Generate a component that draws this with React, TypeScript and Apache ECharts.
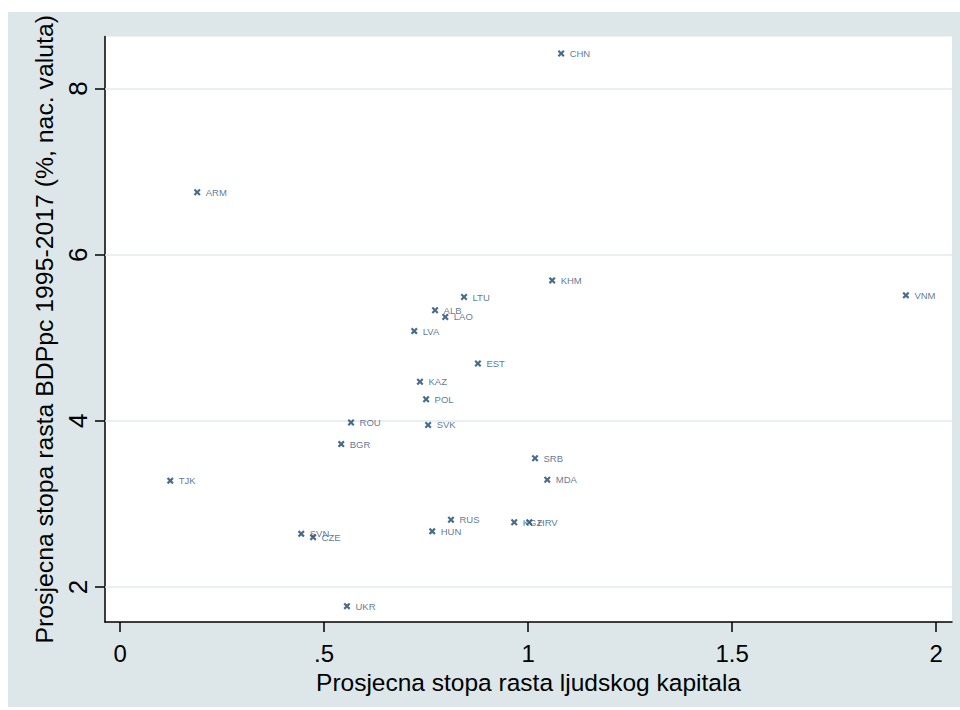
import React, { useEffect, useRef } from "react";
import * as echarts from "echarts";

// Country codes and their average growth rates
const countries = [
  "CHN", "ARM", "KHM", "VNM", "LTU", "ALB", "LAO", "LVA", "EST", "KAZ", "POL", "ROU",
  "SVK", "BGR", "SRB", "MDA", "TJK", "RUS", "HUN", "KGZ", "HRV", "SVN", "CZE", "UKR",
];
// Average growth rate of human capital
const humanCapital = [
  1.081, 0.189, 1.059, 1.926, 0.843, 0.772, 0.797, 0.721, 0.877, 0.735, 0.750, 0.566,
  0.755, 0.542, 1.017, 1.047, 0.123, 0.811, 0.765, 0.966, 1.003, 0.444, 0.473, 0.556,
];
// Average growth rate of GDP per capita 1995-2017 (%, national currency)
const gdpGrowth = [
  8.42, 6.75, 5.69, 5.51, 5.49, 5.33, 5.25, 5.08, 4.69, 4.47, 4.26, 3.98,
  3.95, 3.72, 3.55, 3.29, 3.28, 2.81, 2.67, 2.78, 2.78, 2.64, 2.60, 1.77,
];

const xTicks = [0, 0.5, 1, 1.5, 2];
const xTickLabels = ["0", ".5", "1", "1.5", "2"];
const yTicks = [2, 4, 6, 8];

const xTitle = "Prosjecna stopa rasta ljudskog kapitala";
const yTitle = "Prosjecna stopa rasta BDPpc 1995-2017 (%, nac. valuta)";

const NAVY = "#1a476f";
// Bold "x" marker drawn as a filled outline
const CROSS =
  "path://M0,2.2L2.2,0L5,2.8L7.8,0L10,2.2L7.2,5L10,7.8L7.8,10L5,7.2L2.2,10L0,7.8L2.8,5Z";

export default function App() {
  const ref = useRef<HTMLDivElement>(null);

  useEffect(() => {
    if (!ref.current) return;
    const chart = echarts.init(ref.current, null, { renderer: "svg" });
    const font = "'Liberation Sans', Arial, sans-serif";

    const points = countries.map((name, i) => ({
      name,
      value: [humanCapital[i], gdpGrowth[i]],
    }));

    chart.setOption({
      animation: false,
      backgroundColor: "#dde7e9",
      textStyle: { fontFamily: font },
      grid: { left: 97, right: 8, top: 24, bottom: 85, show: true, backgroundColor: "#ffffff", borderWidth: 0 },
      xAxis: {
        type: "value",
        min: -0.037,
        max: 2.039,
        name: xTitle,
        nameLocation: "middle",
        nameGap: 39,
        nameTextStyle: { fontSize: 24.5, color: "#000", fontFamily: font },
        axisLine: { show: true, onZero: false, lineStyle: { color: "#000", width: 1.5 } },
        axisTick: { show: true, length: 10, customValues: xTicks, lineStyle: { color: "#000", width: 1.5 } },
        axisLabel: {
          customValues: xTicks,
          formatter: (v: number) => xTickLabels[xTicks.indexOf(v)] ?? String(v),
          fontSize: 24,
          color: "#000",
          margin: 19,
          fontFamily: font,
        },
        splitLine: { show: false },
      },
      yAxis: {
        type: "value",
        min: 1.579,
        max: 8.625,
        name: yTitle,
        nameLocation: "middle",
        nameRotate: 90,
        nameGap: 42,
        nameTextStyle: { fontSize: 24.8, color: "#000", fontFamily: font },
        axisLine: { show: true, onZero: false, lineStyle: { color: "#000", width: 1.5 } },
        axisTick: { show: true, length: 10, customValues: yTicks, lineStyle: { color: "#000", width: 1.5 } },
        axisLabel: {
          customValues: yTicks,
          rotate: 90,
          fontSize: 26,
          color: "#000",
          margin: 14,
          fontFamily: font,
        },
        splitLine: { show: false },
      },
      series: [
        {
          type: "scatter",
          data: points,
          symbol: CROSS,
          symbolSize: 7,
          itemStyle: { color: NAVY },
          label: {
            show: true,
            position: "right",
            distance: 5,
            formatter: (p: any) => p.name,
            fontSize: 9.5,
            color: "#34557a",
            fontFamily: font,
          },
          markLine: {
            silent: true,
            symbol: "none",
            label: { show: false },
            lineStyle: { color: "#e2ebed", type: "solid", width: 1.5 },
            data: yTicks.map((v) => ({ yAxis: v })),
            z: 1,
          },
          z: 3,
        },
      ],
    });

    return () => chart.dispose();
  }, []);

  return (
    <div
      ref={ref}
      style={{ position: "absolute", left: 8, top: 12, width: 952, height: 695 }}
    />
  );
}
